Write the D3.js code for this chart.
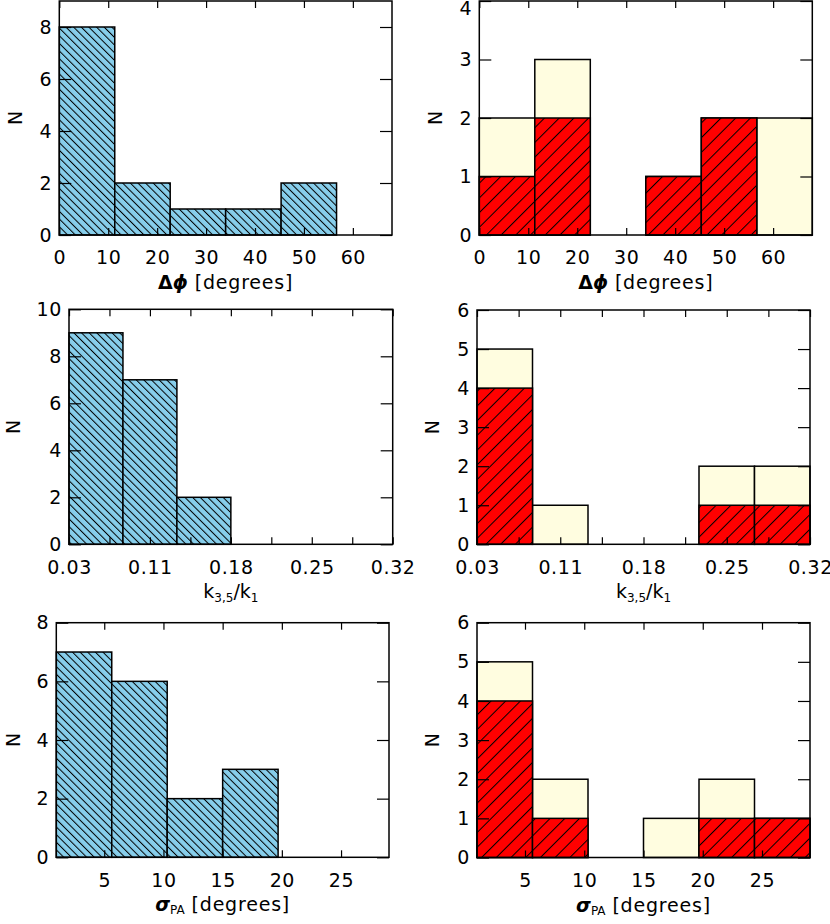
<!DOCTYPE html>
<html>
<head>
<meta charset="utf-8">
<script src="https://cdn.jsdelivr.net/npm/d3@7"></script>
<style>
  body { margin: 0; background: #fff; }
  svg text { font-family: "DejaVu Sans", sans-serif; font-size: 19px; fill: #000; }
  .tick text { letter-spacing: 0.6px; }
</style>
</head>
<body>
<svg id="chart" width="830" height="924"></svg>
<script>
// counts per bin, 6 equal bins per panel
const dphiAll      = [8, 2, 1, 1, 2, 0];
const dphiSubTotal = [2, 3, 0, 1, 2, 2];
const dphiSubRed   = [1, 2, 0, 1, 2, 0];

const kAll      = [9, 7, 2, 0, 0, 0];
const kSubTotal = [5, 1, 0, 0, 2, 2];
const kSubRed   = [4, 0, 0, 0, 1, 1];

const sigAll      = [7, 6, 2, 3, 0, 0];
const sigSubTotal = [5, 2, 0, 1, 2, 1];
const sigSubRed   = [4, 1, 0, 0, 1, 1];

// axis ranges and tick labels
const dphiRange = [0, 68];
const kRange = [0.03, 0.32];
const sigRange = [0.95, 29.05];

const dphiTicks = [0, 10, 20, 30, 40, 50, 60];
const kTickLabels = ["0.03", "0.11", "0.18", "0.25", "0.32"];
const sigTicks = [5, 10, 15, 20, 25];

const colors = {
  blue: "#87ceeb",
  red: "#ff0000",
  cream: "#fffde0"
};

const svg = d3.select("#chart");
const defs = svg.append("defs");

function hatch(id, bg, spacing, angle) {
  const p = defs.append("pattern")
    .attr("id", id)
    .attr("patternUnits", "userSpaceOnUse")
    .attr("width", spacing)
    .attr("height", spacing)
    .attr("patternTransform", `rotate(${angle})`);
  p.append("rect").attr("width", spacing).attr("height", spacing).attr("fill", bg);
  p.append("line")
    .attr("x1", 0.5).attr("y1", 0).attr("x2", 0.5).attr("y2", spacing)
    .attr("stroke", "#000").attr("stroke-width", 1);
}
hatch("hatch-blue", colors.blue, 5.4, -45);
hatch("hatch-red", colors.red, 10.4, 45);

// k axis: 9 ticks, labels on every other one
const kStep = (kRange[1] - kRange[0]) / 8;
const kTicks = d3.range(9).map(i => kRange[0] + i * kStep);

function xTitleDphi(t) {
  t.append("tspan").attr("font-weight", "bold").text("Δ");
  t.append("tspan").attr("font-weight", "bold").attr("font-style", "italic").text("ϕ");
  t.append("tspan").attr("letter-spacing", "0.8px").text(" [degrees]");
}
function xTitleK(t) {
  t.append("tspan").text("k");
  t.append("tspan").attr("font-size", "12px").attr("dy", 4).text("3,5");
  t.append("tspan").attr("dy", -4).text("/k");
  t.append("tspan").attr("font-size", "12px").attr("dy", 4).text("1");
}
function xTitleSig(t) {
  t.append("tspan").attr("font-weight", "bold").attr("font-style", "italic").text("σ");
  t.append("tspan").attr("font-size", "12px").attr("dy", 3).text("PA");
  t.append("tspan").attr("dy", -3).attr("letter-spacing", "0.8px").text(" [degrees]");
}

const panels = [
  { box: [59.3, 1, 392, 235], range: dphiRange, ticks: dphiTicks, fmt: d => d, ymax: 9, ystep: 2,
    all: dphiAll, title: xTitleDphi, nOff: 44 },
  { box: [479.3, 1, 812.3, 235], range: dphiRange, ticks: dphiTicks, fmt: d => d, ymax: 4, ystep: 1,
    total: dphiSubTotal, red: dphiSubRed, title: xTitleDphi, nOff: 44 },
  { box: [69, 309.3, 392.7, 544.3], range: kRange, ticks: kTicks, fmt: (d, i) => i % 2 ? "" : kTickLabels[i / 2],
    ymax: 10, ystep: 2, all: kAll, title: xTitleK, nOff: 56 },
  { box: [477, 310, 810, 544.3], range: kRange, ticks: kTicks, fmt: (d, i) => i % 2 ? "" : kTickLabels[i / 2],
    ymax: 6, ystep: 1, total: kSubTotal, red: kSubRed, title: xTitleK, nOff: 45 },
  { box: [56.3, 622.7, 389, 857.3], range: sigRange, ticks: sigTicks, fmt: d => d, ymax: 8, ystep: 2,
    all: sigAll, title: xTitleSig, nOff: 43 },
  { box: [477, 622.7, 810, 857.5], range: sigRange, ticks: sigTicks, fmt: d => d, ymax: 6, ystep: 1,
    total: sigSubTotal, red: sigSubRed, title: xTitleSig, nOff: 45 }
];

panels.forEach(p => {
  const [x0, y0, x1, y1] = p.box;
  const x = d3.scaleLinear().domain(p.range).range([x0, x1]);
  const y = d3.scaleLinear().domain([0, p.ymax]).range([y1, y0]);
  const g = svg.append("g");
  const nb = 6;
  const bw = (p.range[1] - p.range[0]) / nb;
  const binX = i => x(p.range[0] + i * bw);

  function bars(vals, fill) {
    g.selectAll(null)
      .data(vals.map((v, i) => ({ v, i })).filter(d => d.v > 0))
      .enter().append("rect")
      .attr("x", d => binX(d.i))
      .attr("width", d => binX(d.i + 1) - binX(d.i))
      .attr("y", d => y(d.v))
      .attr("height", d => y(0) - y(d.v))
      .attr("fill", fill)
      .attr("stroke", "#000")
      .attr("stroke-width", 1.5);
  }
  if (p.all) bars(p.all, "url(#hatch-blue)");
  if (p.total) {
    bars(p.total, colors.cream);
    bars(p.red, "url(#hatch-red)");
  }

  const yTicks = d3.range(0, p.ymax + 0.001, p.ystep);

  const axB = g.append("g").attr("transform", `translate(0,${y1})`)
    .call(d3.axisBottom(x).tickValues(p.ticks).tickSize(-7).tickPadding(16).tickFormat(p.fmt));
  const axT = g.append("g").attr("transform", `translate(0,${y0})`)
    .call(d3.axisTop(x).tickValues(p.ticks).tickSize(-7).tickFormat(""));
  const axL = g.append("g").attr("transform", `translate(${x0},0)`)
    .call(d3.axisLeft(y).tickValues(yTicks).tickSize(-12).tickPadding(7).tickFormat(d3.format("d")));
  const axR = g.append("g").attr("transform", `translate(${x1},0)`)
    .call(d3.axisRight(y).tickValues(yTicks).tickSize(-12).tickFormat(""));

  [axB, axT, axL, axR].forEach(a => {
    a.select(".domain").remove();
    a.selectAll("line").attr("stroke", "#000").attr("stroke-width", 1.2);
    a.selectAll("text").attr("fill", "#000");
    a.attr("font-size", null).attr("font-family", null);
  });

  // keep the top y label inside the page
  axL.selectAll(".tick").filter(d => y(d) < 8)
    .select("text").attr("y", 8 - y(p.ymax));

  g.append("rect")
    .attr("x", x0).attr("y", y0)
    .attr("width", x1 - x0).attr("height", y1 - y0)
    .attr("fill", "none").attr("stroke", "#000").attr("stroke-width", 1.5);

  const t = g.append("text")
    .attr("x", (x0 + x1) / 2)
    .attr("y", y1 + 54)
    .attr("text-anchor", "middle");
  p.title(t);

  g.append("text")
    .attr("transform", `translate(${x0 - p.nOff},${(y0 + y1) / 2}) rotate(-90)`)
    .attr("text-anchor", "middle")
    .attr("dy", "0.35em")
    .text("N");
});
</script>
</body>
</html>
